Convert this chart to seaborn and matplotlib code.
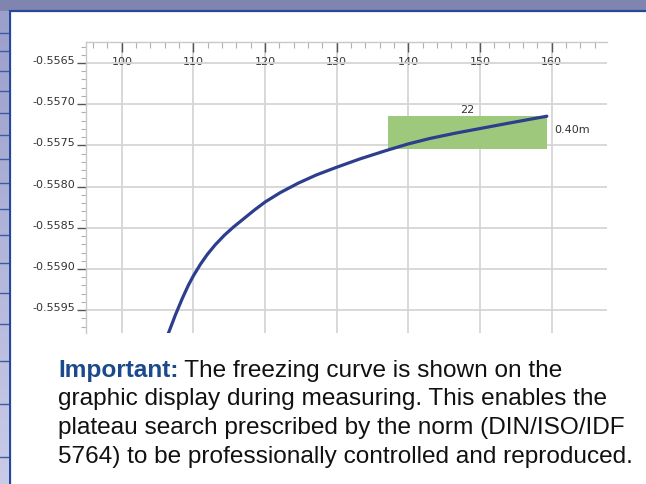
import numpy as np
import pandas as pd
import matplotlib
matplotlib.use("Agg")
import matplotlib.pyplot as plt
import seaborn as sns
from matplotlib.ticker import MultipleLocator
from matplotlib.patches import Rectangle
from matplotlib.text import Annotation
from matplotlib.colors import LinearSegmentedColormap

# ---------------- data ----------------
time_s = [106.21, 106.49, 107.46, 108.44, 109.27, 109.97, 110.95, 111.92,
          113.04, 114.30, 115.55, 117.09, 118.48, 120.01, 122.11, 124.62,
          127.13, 129.92, 133.26, 136.75, 139.96, 143.03, 146.51, 150.00,
          154.18, 159.30]
temp = [-0.559845, -0.559782, -0.559561, -0.559357, -0.559200, -0.559085,
        -0.558945, -0.558824, -0.558706, -0.558591, -0.558493, -0.558384,
        -0.558286, -0.558186, -0.558073, -0.557958, -0.557859, -0.557767,
        -0.557663, -0.557566, -0.557482, -0.557415, -0.557352, -0.557295,
        -0.557227, -0.557146]

x_ticks = [100, 110, 120, 130, 140, 150, 160]
x_tick_labels = ["100", "110", "120", "130", "140", "150", "160"]
y_ticks = [-0.5565, -0.5570, -0.5575, -0.5580, -0.5585, -0.5590, -0.5595]
y_tick_labels = ["-0.5565", "-0.5570", "-0.5575", "-0.5580", "-0.5585",
                 "-0.5590", "-0.5595"]

plateau_start = 137.2
plateau_end = 159.3
plateau_top = -0.557147
plateau_bottom = -0.557547
plateau_width_label = "22"
plateau_height_label = "0.40m"

caption_lead = "Important:"
caption_lines = [
    " The freezing curve is shown on the",
    "graphic display during measuring. This enables the",
    "plateau search prescribed by the norm (DIN/ISO/IDF",
    "5764) to be professionally controlled and reproduced.",
]

# ---------------- style ----------------
sns.set_theme(style="white")
plt.rcParams["font.family"] = ["DejaVu Sans"]
plt.rcParams["axes.unicode_minus"] = False

W, H = 646, 485
fig = plt.figure(figsize=(W / 100, H / 100), dpi=100)
fig.patch.set_facecolor("#8085b0")

# white panel with blue border (background decoration)
fig.patches.append(Rectangle((9.5 / W, -0.01), 1.0, 1 - 12 / H + 0.01,
                             transform=fig.transFigure, facecolor="white",
                             edgecolor="#24489b", lw=1.6, zorder=-5))

# left decorative strip (gradient + lines)
strip = fig.add_axes([0, 0, 8.8 / W, 1 - 12 / H])
strip.set_zorder(1)
grad = np.linspace(0, 1, 256).reshape(-1, 1)
cm = LinearSegmentedColormap.from_list("s", ["#9a9fcb", "#c9cbe7"])
strip.imshow(grad, aspect="auto", cmap=cm, extent=[0, 1, 1, 0])
for yy in [22, 40, 60, 80, 102, 124, 148, 172, 198, 224, 252, 282, 313, 350, 393, 446]:
    strip.axhline(yy / (H - 12), color="#3f5aa5", lw=1.0)
strip.set_xlim(0, 1)
strip.set_ylim(1, 0)
strip.axis("off")

# ---------------- chart ----------------
ax_l, ax_r, ax_t, ax_b = 86, 607, 43, 334
ax = fig.add_axes([ax_l / W, 1 - ax_b / H, (ax_r - ax_l) / W, (ax_b - ax_t) / H])
ax.set_zorder(2)
ax.set_facecolor("none")

ax.fill_between([plateau_start, plateau_end], plateau_bottom, plateau_top,
                color="#9ec97c", lw=0, zorder=2)
sns.lineplot(x=time_s, y=temp, ax=ax, color="#2e3e8e", lw=2.3,
             sort=False, estimator=None, zorder=3,
             solid_joinstyle="round", solid_capstyle="round")

ax.annotate(plateau_width_label, xy=((plateau_start + plateau_end) / 2, plateau_top),
            xytext=(0, 1.5), textcoords="offset points", ha="center", va="bottom",
            fontsize=8, color="#333333")
ax.annotate(plateau_height_label,
            xy=(plateau_end, (plateau_top + plateau_bottom) / 2),
            xytext=(5.3, 2.5), textcoords="offset points", ha="left", va="center",
            fontsize=8, color="#333333")

ax.set_xlim(95.0, 167.7)
ax.set_ylim(-0.559777, -0.556245)

ax.xaxis.tick_top()
ax.set_xticks(x_ticks)
ax.set_xticklabels(x_tick_labels)
ax.xaxis.set_minor_locator(MultipleLocator(2))
ax.set_yticks(y_ticks)
ax.set_yticklabels(y_tick_labels)
ax.yaxis.set_minor_locator(MultipleLocator(0.0001))

ax.tick_params(axis="x", which="major", direction="in", length=7, width=1.0,
               color="#555555", pad=-17, labelsize=8, labelcolor="#333333",
               top=True, bottom=False)
ax.tick_params(axis="x", which="minor", direction="in", length=4, width=0.8,
               color="#b0b0b0", top=True, bottom=False)
ax.tick_params(axis="y", which="major", direction="out", length=6.5, width=1.0,
               color="#555555", pad=1.2, labelsize=8, labelcolor="#333333",
               left=True)
ax.tick_params(axis="y", which="minor", direction="out", length=3.5, width=0.8,
               color="#b0b0b0", left=True)
for lab in ax.get_yticklabels():
    lab.set_va("baseline")

ax.grid(True, which="major", color="#d5d5d5", lw=1.3, zorder=0)
ax.set_axisbelow(True)
for s in ["right", "bottom"]:
    ax.spines[s].set_visible(False)
for s in ["top", "left"]:
    ax.spines[s].set_visible(True)
    ax.spines[s].set_color("#c8c8c8")
    ax.spines[s].set_linewidth(1.0)
ax.set_xlabel("")
ax.set_ylabel("")

# ---------------- caption ----------------
cap_font = ["Liberation Sans", "DejaVu Sans"]
fs = 17.55
x0 = 58 / W
baselines = [377, 405.5, 434, 462.5]
t1 = fig.text(x0, 1 - baselines[0] / H, caption_lead, fontsize=fs, family=cap_font,
              fontweight="bold", color="#1b4a8c", va="baseline", ha="left")
rest = Annotation(caption_lines[0], xy=(1, 0), xycoords=t1,
                  va="bottom", ha="left", fontsize=fs,
                  family=cap_font, color="#111111", annotation_clip=False)
fig.add_artist(rest)
for line, b in zip(caption_lines[1:], baselines[1:]):
    fig.text(x0, 1 - b / H, line, fontsize=fs, family=cap_font, color="#111111",
             va="baseline", ha="left")

fig.savefig("out.png", dpi=100, facecolor=fig.get_facecolor())
